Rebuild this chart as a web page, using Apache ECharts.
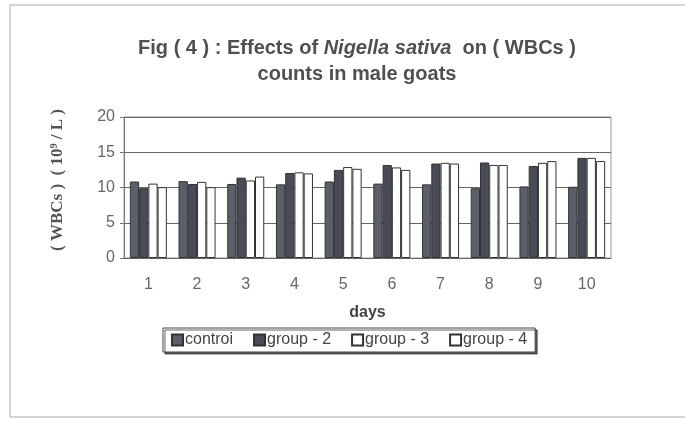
<!DOCTYPE html>
<html>
<head>
<meta charset="utf-8">
<script src="https://cdn.jsdelivr.net/npm/echarts@6/dist/echarts.min.js"></script>
<style>html,body{margin:0;padding:0;background:#fff}#c{width:685px;height:421px}</style>
</head>
<body>
<div id="c"></div>
<script>
const days = ['1','2','3','4','5','6','7','8','9','10'];
const seriesNames = ['controi', 'group - 2', 'group - 3', 'group - 4'];
const control = [10.85, 10.9, 10.5, 10.45, 10.85, 10.55, 10.45, 9.9, 10.15, 10.1];
const group2  = [9.9, 10.5, 11.4, 12.05, 12.5, 13.2, 13.4, 13.55, 13.05, 14.2];
const group3  = [10.55, 10.8, 11.0, 12.15, 12.9, 12.85, 13.5, 13.2, 13.5, 14.2];
const group4  = [10.05, 10.05, 11.55, 12.0, 12.65, 12.5, 13.4, 13.2, 13.75, 13.75];
const yTicks = [0, 5, 10, 15, 20];

const colors = ['#5a5f69', '#474c57', '#ffffff', '#ffffff'];
const dataSets = [control, group2, group3, group4];

const chart = echarts.init(document.getElementById('c'));
chart.setOption({
  backgroundColor: '#fff',
  animation: false,
  title: {
    left: 352, textAlign: 'center', top: 30,
    text: '{b|Fig ( 4 ) : Effects of }{i|Nigella sativa}{b|  on ( WBCs )}\n{b|counts in male goats}',
    textStyle: {
      rich: {
        b: { fontFamily: 'Liberation Sans, Arial', fontWeight: 'bold', fontSize: 20, color: '#505050', lineHeight: 26 },
        i: { fontFamily: 'Liberation Sans, Arial', fontWeight: 'bold', fontStyle: 'italic', fontSize: 20, color: '#505050', lineHeight: 26 }
      }
    }
  },
  graphic: [
    { type: 'rect', shape: { x: 10, y: 5, width: 690, height: 412 }, style: { fill: 'none', stroke: '#aaa', lineWidth: 1 }, silent: true },
    { type: 'text', x: 58, y: 180, rotation: Math.PI / 2,
      style: { text: '( WBCs )  ( 10⁹ / L )', fontFamily: 'Liberation Serif, Times New Roman', fontWeight: 'bold', fontSize: 17, fill: '#555', align: 'center', verticalAlign: 'middle' } }
  ],
  legend: {
    left: 163, top: 328,
    data: seriesNames,
    itemWidth: 11, itemHeight: 11, itemGap: 20,
    icon: 'rect',
    padding: [4, 8],
    borderColor: '#444', borderWidth: 1,
    backgroundColor: '#fff',
    shadowColor: 'rgba(0,0,0,0.6)', shadowOffsetX: 2, shadowOffsetY: 2, shadowBlur: 0,
    textStyle: { fontFamily: 'Liberation Sans, Arial', fontSize: 16, color: '#444', padding: [0, 0, 0, -3] }
  },
  grid: { left: 124, right: 74, top: 117, bottom: 163, show: true, borderColor: '#999', borderWidth: 1 },
  xAxis: {
    type: 'category', data: days,
    name: 'days', nameLocation: 'middle', nameGap: 47,
    nameTextStyle: { fontFamily: 'Liberation Sans, Arial', fontWeight: 'bold', fontSize: 16, color: '#444' },
    axisLine: { lineStyle: { color: '#666' } },
    axisTick: { show: false },
    axisLabel: { fontFamily: 'Liberation Sans, Arial', fontSize: 16, color: '#666', margin: 19 }
  },
  yAxis: {
    type: 'value', min: 0, max: 20, interval: 5,
    axisLine: { show: true, lineStyle: { color: '#777' } },
    axisTick: { show: true, length: 4, lineStyle: { color: '#777' } },
    axisLabel: { fontFamily: 'Liberation Sans, Arial', fontSize: 16, color: '#666', margin: 9,
      formatter: v => yTicks.includes(v) ? String(v) : '' },
    splitLine: { lineStyle: { color: '#666', width: 1 } }
  },
  series: seriesNames.map((n, i) => ({
    name: n, type: 'bar', data: dataSets[i],
    barGap: '0%', barCategoryGap: '24%',
    itemStyle: { color: colors[i], borderColor: '#333', borderWidth: 1 }
  }))
});
</script>
</body>
</html>
